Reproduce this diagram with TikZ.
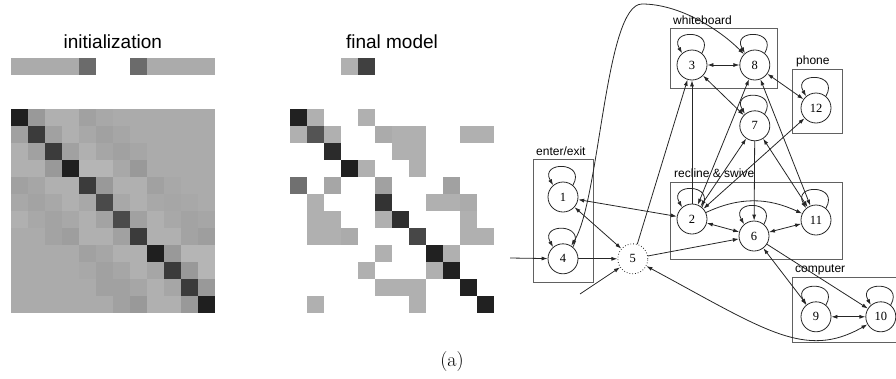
\documentclass[tikz,border=0pt]{standalone}
\usepackage{fontspec}
\newfontfamily\sanslabel{Liberation Sans}
\newfontfamily\seriflabel{Liberation Serif}
\usetikzlibrary{positioning}
\usetikzlibrary{arrows.meta}
\tikzset{>={Latex[width=4pt,length=6pt]}}

\begin{document}
\begin{tikzpicture}[x=1pt, y=1pt, state/.style={circle, draw=black!85, line width=0.8pt, minimum size=30pt, inner sep=0pt, font=\seriflabel\fontsize{12.5}{12.5}\selectfont}, hiddenstate/.style={state, dotted}, groupbox/.style={draw=black!62, line width=1pt}, grouplabel/.style={anchor=base west, inner sep=0pt, font=\sanslabel\fontsize{12}{12}\selectfont}, title/.style={anchor=base, inner sep=0pt, font=\sanslabel\fontsize{19}{19}\selectfont}, link/.style={draw=black!85, line width=0.8pt}]

    \clip (0,-378) rectangle (896,0);

    %Titles
    \node[title](inittitle) at (112.8,-48){initialization};
    \node[title](finaltitle) at (392,-48){final model};
    \node[anchor=base, inner sep=0pt, font=\fontsize{20}{20}\selectfont](caption) at (452,-366){(a)};

    %Matrices
    \foreach \v [count=\c from 0] in {33,33,33,33,58,0,0,58,33,33,33,33}
        {\ifnum\v>0 \fill[black!\v] (10.7+17*\c,-58) rectangle ++(17,-17);\fi}
    \foreach \v [count=\c from 0] in {0,0,0,31,75,0,0,0,0,0,0,0}
        {\ifnum\v>0 \fill[black!\v] (290+17*\c,-58) rectangle ++(17,-17);\fi}
    \foreach \row [count=\r from 0] in {
        {88,40,31,31,37,34,33,33,33,33,33,33},
        {37,77,37,31,34,37,35,33,33,33,33,33},
        {31,37,77,37,31,35,37,35,33,33,33,33},
        {31,31,40,88,29,29,34,40,33,33,33,33},
        {37,35,31,31,77,40,31,31,37,34,33,33},
        {34,36,34,31,34,71,34,31,34,35,34,33},
        {31,34,36,34,31,36,71,37,31,34,36,35},
        {33,33,36,38,31,31,37,77,31,31,36,38},
        {33,33,33,33,37,35,31,31,88,40,29,29},
        {33,33,33,33,34,37,35,31,35,77,40,29},
        {33,33,33,33,33,37,37,35,31,35,77,40},
        {33,33,33,33,33,33,37,40,31,31,40,88}}
        {\foreach \v [count=\c from 0] in \row
            \fill[black!\v] (10.7+17*\c,-109-17*\r) rectangle ++(17,-17);}
    \foreach \row [count=\r from 0] in {
        {87,31,0,0,31,0,0,0,0,0,0,0},
        {31,67,31,0,0,33,31,31,0,0,31,31},
        {0,0,83,0,0,0,31,31,0,0,0,0},
        {0,0,0,88,31,0,0,31,0,0,0,0},
        {56,0,35,0,0,37,0,0,0,37,0,0},
        {0,31,0,0,0,80,0,0,31,31,33,0},
        {0,31,31,0,0,31,82,0,0,0,31,0},
        {0,31,31,33,0,0,0,72,0,0,31,31},
        {0,0,0,0,0,31,0,0,87,31,0,0},
        {0,0,0,0,31,0,0,0,31,87,0,0},
        {0,0,0,0,0,31,31,31,0,0,87,0},
        {0,31,0,0,0,0,0,31,0,0,0,87}}
        {\foreach \v [count=\c from 0] in \row
            {\ifnum\v>0 \fill[black!\v] (290+17*\c,-109-17*\r) rectangle ++(17,-17);\fi}}

    %Groups
    \draw[groupbox] (533,-159) rectangle (593,-282);
    \node[grouplabel](enterlabel) at (536,-155){enter/exit};
    \draw[groupbox] (670,-28) rectangle (777,-88);
    \node[grouplabel](whitelabel) at (673,-24.5){whiteboard};
    \draw[groupbox] (792,-69) rectangle (842,-133);
    \node[grouplabel](phonelabel) at (796,-64){phone};
    \draw[groupbox] (670,-182) rectangle (842,-259);
    \node[grouplabel](reclinelabel) at (674,-177){recline \& swive};
    \draw[groupbox] (792,-277) rectangle (910,-342);
    \node[grouplabel](computerlabel) at (795,-272){computer};

    %Nodes
    \node[state](n1) at (563,-197){1};
    \node[state](n4)[below=31pt of n1]{4};
    \node[hiddenstate](n5)[right=39pt of n4]{5};
    \node[state](n3) at (692,-65){3};
    \node[state](n8)[right=32pt of n3]{8};
    \node[state](n7)[below=30pt of n8]{7};
    \node[state](n12) at (816,-108){12};
    \node[state](n2) at (692,-219){2};
    \node[state](n6) at (754,-236){6};
    \node[state](n11) at (816,-220){11};
    \node[state](n9)[below=66pt of n11]{9};
    \node[state](n10)[right=34pt of n9]{10};
    \coordinate(in4) at (510,-258);
    \coordinate(in5) at (580,-294);
    \coordinate(peak) at (642,-4);

    %Lines
    \foreach \n in {n1,n4,n3,n8,n12,n7,n2,n6,n11,n9,n10}
        \draw[link, ->] (\n.50) .. controls +(60:28pt) and +(120:28pt) .. (\n.130);
    \draw[link, ->] (in4) -- (n4);
    \draw[link, ->] (in5) -- (n5);
    \draw[link, ->] (n4) -- (n5);
    \draw[link, <->] (n1) -- (n5);
    \draw[link, <->] (n1) -- (n2);
    \draw[link, ->] (n5) -- (n3);
    \draw[link, ->] (n5) -- (n6);
    \draw[link, <->] (n5) .. controls (765,-330) and (805,-360) .. (n10);
    \draw[link, <->] (n4) .. controls (600,-200) and (605,-4) .. (peak) .. controls (680,-4) and (720,-30) .. (n8);
    \draw[link, <->] (n3) -- (n8);
    \draw[link, <->] (n3) -- (n7);
    \draw[link, <->] (n8) -- (n12);
    \draw[link, ->] (n2) -- (n3);
    \draw[link, <->] (n2) -- (n8);
    \draw[link, <->] (n2) -- (n7);
    \draw[link, <->] (n2) -- (n12);
    \draw[link, ->] (n2) to[out=25, in=155] (n11);
    \draw[link, <->] (n2) -- (n6);
    \draw[link, <->] (n6) -- (n11);
    \draw[link, ->] (n7) -- (n6);
    \draw[link, <->] (n7) -- (n11);
    \draw[link, <->] (n8) -- (n11);
    \draw[link, <->] (n6) -- (n9);
    \draw[link, ->] (n6) -- (n10);
    \draw[link, <->] (n9) -- (n10);

\end{tikzpicture}
\end{document}
